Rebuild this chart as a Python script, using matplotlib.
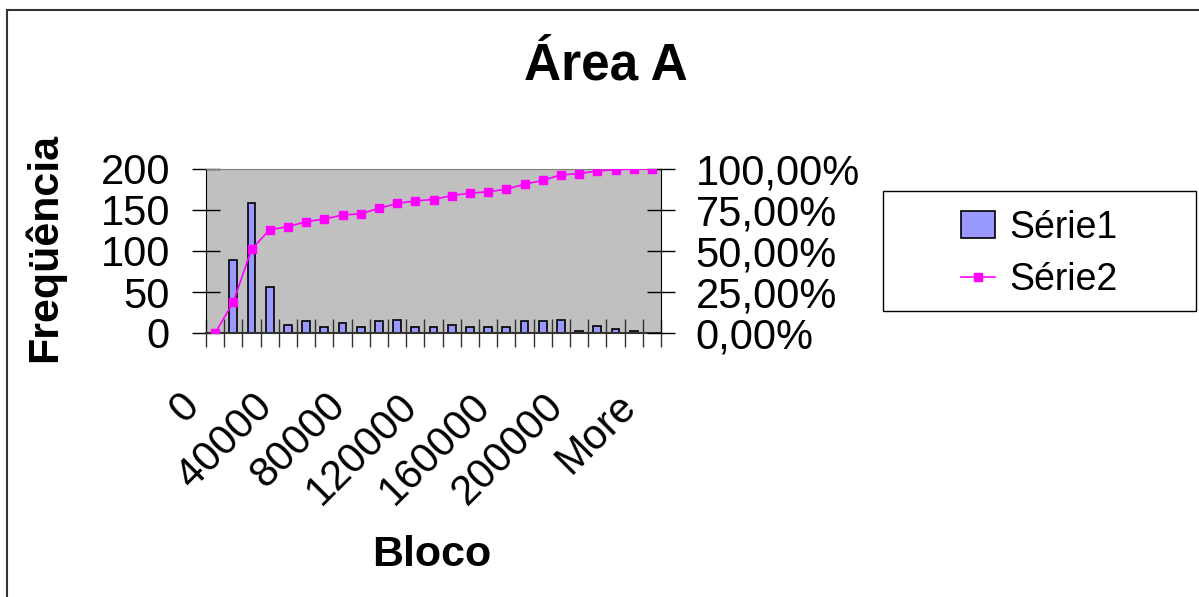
import matplotlib
matplotlib.use('Agg')
import matplotlib.pyplot as plt
import matplotlib.transforms as mtransforms
from matplotlib.patches import Rectangle

plt.rcParams['font.family'] = ['Liberation Sans', 'DejaVu Sans']

# bins of the histogram (Bloco) and counts per bin
bins = ['0', '10000', '20000', '30000', '40000', '50000', '60000', '70000',
        '80000', '90000', '100000', '110000', '120000', '130000', '140000',
        '150000', '160000', '170000', '180000', '190000', '200000', '210000',
        '220000', '230000', 'More']
serie1 = [0, 89, 158, 56, 10, 15, 7, 12, 7, 15, 16, 7, 7, 10, 7, 7, 7,
          15, 15, 16, 3, 8, 5, 3, 0]
# cumulative percentage
serie2 = [0.0, 18.8, 51.1, 63.0, 64.8, 67.9, 69.5, 71.9, 72.7, 76.0, 79.0,
          80.6, 81.4, 83.8, 85.3, 86.1, 87.7, 90.7, 93.1, 96.4, 97.2, 98.8,
          99.6, 100.0, 100.0]

left_ticks = [0, 50, 100, 150, 200]
right_ticks = [0, 25, 50, 75, 100]
right_labels = ['0,00%', '25,00%', '50,00%', '75,00%', '100,00%']

W, H = 1199, 597
fig = plt.figure(figsize=(W / 100, H / 100), dpi=100)
fig.patch.set_facecolor('white')

# outer chart frame
fig.add_artist(Rectangle((7 / W, -0.1), 1.2, 1.1 - 10 / H,
                         transform=fig.transFigure, fill=False,
                         edgecolor='#333333', linewidth=1.5))

ax = fig.add_axes([206 / W, 1 - 333 / H, 455 / W, 164 / H])
ax.set_facecolor('#C0C0C0')
x = list(range(len(bins)))

ax.bar(x, serie1, width=0.42, color='#9999FF', edgecolor='black',
       linewidth=1.2, label='Série1', zorder=2)
ax.set_xlim(-0.5, len(bins) - 0.5)
ax.set_ylim(0, 200)
ax.set_yticks(left_ticks)
ax.tick_params(axis='y', direction='inout', length=20, width=1.0,
               labelsize=30, pad=16)

# category boundaries get the tick marks, labels every fourth bin
ax.set_xticks([i - 0.5 for i in range(len(bins) + 1)], minor=True)
ax.set_xticks(x[::4])
ax.set_xticklabels(bins[::4], rotation=45, ha='right', va='top',
                   rotation_mode='anchor')
ax.tick_params(axis='x', which='major', length=0, labelsize=30, pad=38)
ax.tick_params(axis='x', which='minor', direction='inout', length=20,
               width=1.0, color='#333333')
shift = mtransforms.ScaledTranslation(-36 / 100, 0, fig.dpi_scale_trans)
for lab in ax.get_xticklabels():
    lab.set_transform(lab.get_transform() + shift)

ax.spines['top'].set_color('#808080')
ax.spines['bottom'].set_color('#333333')
ax.spines['bottom'].set_linewidth(1.5)
ax.spines['right'].set_visible(False)

ax2 = ax.twinx()
ax2.plot(x, serie2, color='#FF00FF', marker='s', markersize=5.5,
         linewidth=1.2, label='Série2', zorder=3)
ax2.set_ylim(0, 100)
ax2.set_yticks(right_ticks)
ax2.set_yticklabels(right_labels)
ax2.tick_params(axis='y', direction='inout', length=20, width=1.0,
                labelsize=30, pad=15)
ax2.spines['top'].set_visible(False)
ax2.spines['left'].set_visible(False)
ax2.spines['bottom'].set_visible(False)

fig.text(606 / W, 1 - 66 / H, 'Área A', fontsize=37, fontweight='bold',
         ha='center', va='center')
fig.text(44 / W, 1 - 248 / H, 'Freqüência', fontsize=31,
         fontweight='bold', rotation=90, ha='center', va='center')
fig.text(432 / W, 1 - 555 / H, 'Bloco', fontsize=31,
         fontweight='bold', ha='center', va='center')

# legend box, entries centred inside it
fig.add_artist(Rectangle((883 / W, 1 - 311 / H), 313 / W, 120 / H,
                         transform=fig.transFigure, facecolor='white',
                         edgecolor='black', linewidth=1.0))
h1, l1 = ax.get_legend_handles_labels()
h2, l2 = ax2.get_legend_handles_labels()
leg = fig.legend(h1 + h2, l1 + l2, loc='center',
                 bbox_to_anchor=((883 + 1196) / 2 / W, 1 - 254 / H),
                 fontsize=27, frameon=False, labelspacing=0.45,
                 handlelength=0.9, handleheight=0.7, handletextpad=0.4)
leg.set_zorder(5)

fig.savefig('out.png', dpi=100)
